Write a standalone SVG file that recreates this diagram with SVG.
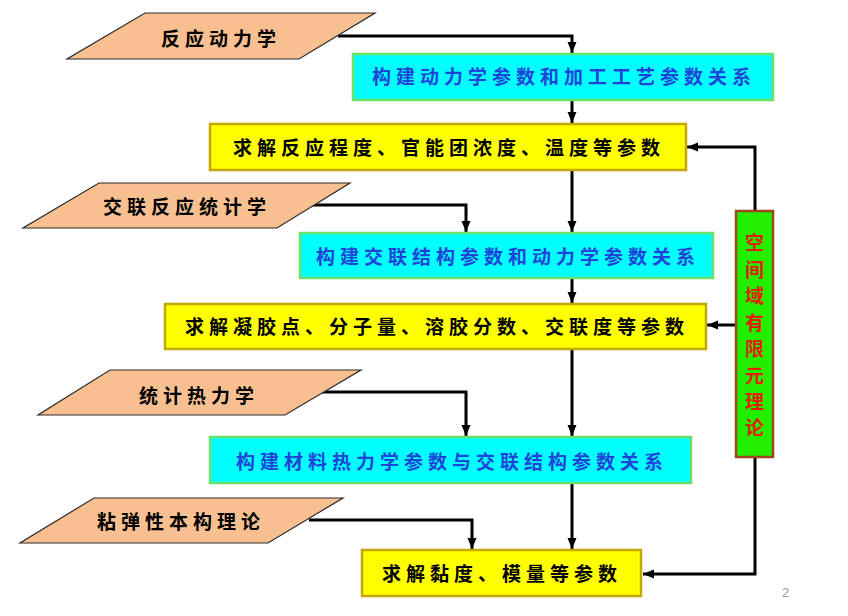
<svg xmlns="http://www.w3.org/2000/svg" width="848" height="616" viewBox="0 0 848 616">
<defs>
<marker id="ah" markerUnits="userSpaceOnUse" markerWidth="12" markerHeight="12" viewBox="0 0 12 12" refX="11" refY="6" orient="auto">
<path d="M0,1.5 L11,6 L0,10.5 Z" fill="#000"/>
</marker>
<style>
.conn{fill:none;stroke:#000;stroke-width:3;}
.cy{fill:#00ffff;stroke:#6be06b;stroke-width:2.5;}
.ye{fill:#ffff00;stroke:#c2a800;stroke-width:2.5;}
.pa{fill:#f8c090;stroke:#2a2a2a;stroke-width:1.2;}
.side{fill:#22ee00;stroke:#a0441a;stroke-width:2.5;}
.t{font-family:"Noto Sans CJK SC","Noto Sans CJK TC",sans-serif;font-weight:bold;font-size:19px;letter-spacing:5px;}
.tb{fill:#000;}
.tc{fill:#1f44d8;}
.ts{font-family:"Noto Sans CJK SC",sans-serif;font-weight:bold;font-size:19px;fill:#e02000;text-anchor:middle;}
.pg{font-family:"Liberation Sans",sans-serif;font-size:13px;fill:#999;}
</style>
</defs>
<rect width="848" height="616" fill="#fff"/>
<g id="connectors">
<path class="conn" d="M338,36 H572 V53" marker-end="url(#ah)"/>
<path class="conn" d="M572,100 V123" marker-end="url(#ah)"/>
<path class="conn" d="M572,170 V232" marker-end="url(#ah)"/>
<path class="conn" d="M310,205 H466 V232" marker-end="url(#ah)"/>
<path class="conn" d="M572,278 V303" marker-end="url(#ah)"/>
<path class="conn" d="M572,349 V436" marker-end="url(#ah)"/>
<path class="conn" d="M320,392 H466 V436" marker-end="url(#ah)"/>
<path class="conn" d="M572,483 V549" marker-end="url(#ah)"/>
<path class="conn" d="M309,520 H472 V549" marker-end="url(#ah)"/>
<path class="conn" d="M755,211 V147 H687" marker-end="url(#ah)"/>
<path class="conn" d="M736,325 H707" marker-end="url(#ah)"/>
<path class="conn" d="M755,457 V574 H643" marker-end="url(#ah)"/>
</g>
<g id="p1">
<polygon class="pa" points="145,13 375,13 299,59 67,59"/>
<text class="t tb" x="161" y="46">反应动力学</text>
</g>
<g id="b1">
<rect class="cy" x="353" y="54" width="420" height="46"/>
<text class="t tc" x="372" y="84">构建动力学参数和加工工艺参数关系</text>
</g>
<g id="b2">
<rect class="ye" x="210" y="124" width="476" height="46"/>
<text class="t tb" x="233" y="155">求解反应程度、官能团浓度、温度等参数</text>
</g>
<g id="p2">
<polygon class="pa" points="99,183 350,183 277,228 23,228"/>
<text class="t tb" x="103" y="214">交联反应统计学</text>
</g>
<g id="b3">
<rect class="cy" x="300" y="233" width="413" height="45"/>
<text class="t tc" x="316" y="264">构建交联结构参数和动力学参数关系</text>
</g>
<g id="b4">
<rect class="ye" x="165" y="304" width="541" height="45"/>
<text class="t tb" x="185" y="334">求解凝胶点、分子量、溶胶分数、交联度等参数</text>
</g>
<g id="p3">
<polygon class="pa" points="110,370 361,370 285,415 38,415"/>
<text class="t tb" x="139" y="403">统计热力学</text>
</g>
<g id="b5">
<rect class="cy" x="210" y="437" width="481" height="46"/>
<text class="t tc" x="236" y="469">构建材料热力学参数与交联结构参数关系</text>
</g>
<g id="p4">
<polygon class="pa" points="94,498 343,498 268,543 20,543"/>
<text class="t tb" x="97" y="529">粘弹性本构理论</text>
</g>
<g id="b6">
<rect class="ye" x="362" y="550" width="279" height="46"/>
<text class="t tb" x="382" y="581">求解黏度、模量等参数</text>
</g>
<g id="side">
<rect class="side" x="736" y="211" width="37" height="246"/>
<text class="ts" x="754.5" y="250">空</text>
<text class="ts" x="754.5" y="277">间</text>
<text class="ts" x="754.5" y="303">域</text>
<text class="ts" x="754.5" y="330">有</text>
<text class="ts" x="754.5" y="356">限</text>
<text class="ts" x="754.5" y="383">元</text>
<text class="ts" x="754.5" y="409">理</text>
<text class="ts" x="754.5" y="435">论</text>
</g>
<text class="pg" x="782" y="597">2</text>
</svg>
